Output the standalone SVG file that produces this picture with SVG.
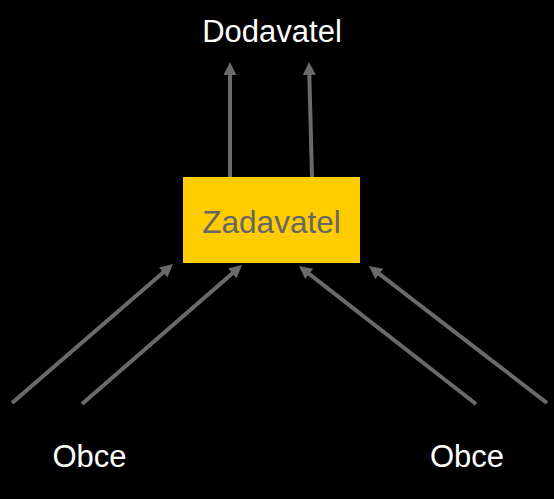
<svg xmlns="http://www.w3.org/2000/svg" width="554" height="499" viewBox="0 0 554 499">
<style>
.lbl{font-family:"Liberation Sans",Arial,sans-serif;font-size:31px;fill:#ffffff;text-anchor:middle}
.inner{fill:#666666}
.conn{stroke:#6a6a6a;stroke-width:4;fill:none;marker-end:url(#ah)}
</style>
<defs>
<marker id="ah" markerUnits="userSpaceOnUse" markerWidth="14" markerHeight="14" viewBox="0 0 14 14" refX="5" refY="7" orient="auto">
<path d="M0,0.5 L13,7 L0,13.5 z" fill="#6a6a6a"/>
</marker>
</defs>
<rect width="554" height="499" fill="#000000"/>
<g id="connectors">
<line class="conn" x1="230" y1="177" x2="230" y2="70"/>
<line class="conn" x1="312" y1="177" x2="309.2" y2="70"/>
<line class="conn" x1="12" y1="403" x2="166.9" y2="269.2"/>
<line class="conn" x1="82" y1="404" x2="236" y2="270.2"/>
<line class="conn" x1="476" y1="404" x2="305.3" y2="270.9"/>
<line class="conn" x1="547" y1="403" x2="375.3" y2="270.9"/>
</g>
<g id="dodavatel">
<text class="lbl" x="272" y="42">Dodavatel</text>
</g>
<g id="zadavatel">
<rect x="183" y="177" width="177" height="86" fill="#ffcc00"/>
<text class="lbl inner" x="271.5" y="233" style="font-size:31.5px">Zadavatel</text>
</g>
<g id="obce-left">
<text class="lbl" x="89.5" y="467">Obce</text>
</g>
<g id="obce-right">
<text class="lbl" x="467" y="467">Obce</text>
</g>
</svg>
